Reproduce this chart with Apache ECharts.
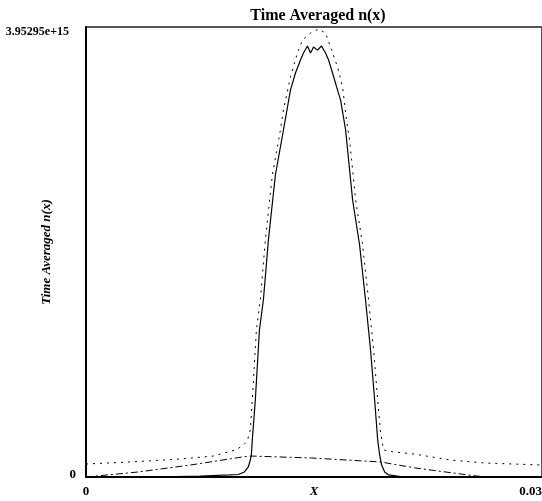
<!DOCTYPE html>
<html>
<head>
<meta charset="utf-8">
<script src="https://cdn.jsdelivr.net/npm/echarts@6/dist/echarts.min.js"></script>
<style>
  html, body { margin: 0; padding: 0; background: #fff; }
  #chart { width: 542px; height: 501px; }
</style>
</head>
<body>
<div id="chart"></div>
<script>
// values, y in units of 1e15
const yUnit = 1e15;
const yMax = 3.95295e15;
const xMax = 0.03;

const solidX = [0, 0.00422, 0.00752, 0.00949, 0.01002, 0.01042, 0.01068, 0.01081, 0.01088, 0.01094,
  0.01114, 0.01141, 0.01167, 0.01200, 0.01246, 0.01299, 0.01345, 0.01378, 0.01411, 0.01431,
  0.01457, 0.01477, 0.01497, 0.01523, 0.01549, 0.01576, 0.01596, 0.01622, 0.01655, 0.01675,
  0.01708, 0.01754, 0.01800, 0.01839, 0.01872, 0.01899, 0.01919, 0.01932, 0.01945, 0.01965,
  0.01991, 0.02070, 0.02400, 0.03];
const solidY = [0, 0, 0.009, 0.018, 0.022, 0.044, 0.088, 0.149, 0.193, 0.325,
  0.676, 1.291, 1.555, 2.082, 2.653, 3.048, 3.399, 3.549, 3.663, 3.724,
  3.786, 3.724, 3.777, 3.750, 3.786, 3.724, 3.663, 3.549, 3.399, 3.311,
  3.048, 2.433, 2.038, 1.555, 1.116, 0.676, 0.325, 0.193, 0.105, 0.044,
  0.018, 0.004, 0, 0];

const dotX = [0, 0.00290, 0.00620, 0.00837, 0.00982, 0.01029, 0.01061, 0.01081, 0.01094, 0.01121,
  0.01147, 0.01180, 0.01226, 0.01279, 0.01299, 0.01345, 0.01391, 0.01424, 0.01477, 0.01530,
  0.01576, 0.01609, 0.01655, 0.01688, 0.01714, 0.01734, 0.01774, 0.01820, 0.01859, 0.01892,
  0.01919, 0.01938, 0.01958, 0.02024, 0.02156, 0.02400, 0.02624, 0.03];
const dotY = [0.114, 0.132, 0.158, 0.184, 0.237, 0.272, 0.316, 0.413, 0.676, 1.291,
  1.555, 2.082, 2.653, 3.048, 3.224, 3.514, 3.724, 3.839, 3.900, 3.935,
  3.900, 3.777, 3.601, 3.426, 3.136, 2.960, 2.433, 2.038, 1.555, 1.116,
  0.676, 0.387, 0.237, 0.220, 0.202, 0.149, 0.123, 0.105];

const dashDotX = [0, 0.00343, 0.00686, 0.01029, 0.01088, 0.01483, 0.01938, 0.02169, 0.02512, 0.02624, 0.03];
const dashDotY = [0, 0.044, 0.105, 0.176, 0.184, 0.167, 0.132, 0.079, 0.018, 0, 0];

const titleText = 'Time Averaged n(x)';
const yName = 'Time Averaged n(x)';
const xName = 'X';

function pairs(xs, ys) {
  return xs.map((x, i) => [x, ys[i] * yUnit]);
}

const chart = echarts.init(document.getElementById('chart'));
const font = 'Liberation Serif';

chart.setOption({
  animation: false,
  backgroundColor: '#fff',
  title: {
    text: titleText,
    left: 313,
    top: 3,
    textAlign: 'center',
    textStyle: { fontFamily: font, fontWeight: 'bold', fontSize: 16, color: '#000' }
  },
  grid: {
    left: 86, right: 0, top: 27, bottom: 24,
    outerBoundsMode: 'none',
    containLabel: false,
    show: true, borderColor: '#555', borderWidth: 2
  },
  xAxis: {
    type: 'value',
    min: 0, max: xMax, interval: xMax,
    name: xName,
    nameLocation: 'middle',
    nameGap: 8,
    nameMoveOverlap: false,
    nameTextStyle: { fontFamily: font, fontWeight: 'bold', fontStyle: 'italic', fontSize: 13, color: '#000' },
    axisLine: { lineStyle: { color: '#000', width: 2 } },
    axisTick: { show: false },
    splitLine: { show: false },
    axisLabel: {
      margin: 8,
      alignMaxLabel: 'right',
      fontFamily: font, fontWeight: 'bold', fontSize: 13, color: '#000',
      formatter: v => (v === 0 ? '0' : '0.03')
    }
  },
  yAxis: {
    type: 'value',
    min: 0, max: yMax, interval: yMax,
    name: yName,
    nameLocation: 'middle',
    nameGap: 33,
    nameMoveOverlap: false,
    nameTextStyle: { fontFamily: font, fontWeight: 'bold', fontStyle: 'italic', fontSize: 13, color: '#000' },
    axisLine: { show: true, lineStyle: { color: '#000', width: 2 } },
    axisTick: { show: false },
    splitLine: { show: false },
    axisLabel: {
      margin: 10,
      fontFamily: font, fontWeight: 'bold', fontSize: 12, color: '#000',
      formatter: v => (v === 0 ? '{z|0}' : '{t|3.95295e+15}'),
      rich: {
        z: { fontFamily: font, fontWeight: 'bold', fontSize: 13, color: '#000', padding: [0, 0, 5, 0] },
        t: { fontFamily: font, fontWeight: 'bold', fontSize: 12, color: '#000', padding: [9, 7, 0, 0] }
      }
    }
  },
  series: [
    {
      type: 'line', data: pairs(solidX, solidY), showSymbol: false,
      lineStyle: { color: '#000', width: 1.2 }
    },
    {
      type: 'line', data: pairs(dotX, dotY), showSymbol: false,
      lineStyle: { color: '#000', width: 1, type: [2, 5] }
    },
    {
      type: 'line', data: pairs(dashDotX, dashDotY), showSymbol: false,
      lineStyle: { color: '#000', width: 1, type: [7, 3, 2, 3] }
    }
  ]
});
</script>
</body>
</html>
